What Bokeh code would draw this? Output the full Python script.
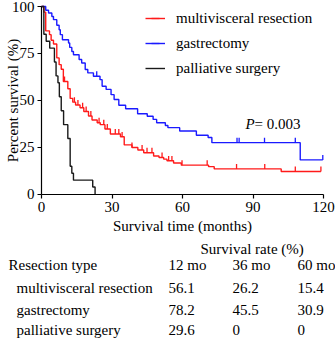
import numpy as np
from bokeh.plotting import figure
from bokeh.models import Range1d, Legend, LegendItem, Label, ColumnDataSource
from bokeh.embed import file_html
from bokeh.resources import INLINE

FONT = "Liberation Serif"
FS = "15px"

# ---- Kaplan-Meier step data (time in months, survival in %) ----
mvr_t = [0, 1.0, 1.8, 3.4, 4.1, 5.1, 6.5, 7.5, 8.4, 9.3, 11.2, 12.2, 13.3, 14.5, 16.4, 18.0,
         20.0, 21.5, 23.7, 25.0, 27.0, 29.3, 33.6, 35.2, 38.5, 41.0, 43.5, 47.7, 50.0, 52.0,
         53.4, 56.2, 59.5, 71.1, 73.5, 102.0, 118.9]
mvr_s = [100, 97.0, 87.0, 85.0, 82.0, 80.0, 72.6, 69.0, 66.5, 60.0, 56.1, 51.0, 49.0, 47.5, 46.0, 44.0,
         41.6, 39.5, 38.0, 37.0, 34.7, 32.0, 30.5, 26.2, 24.8, 23.5, 22.0, 20.3, 19.5, 18.6,
         17.7, 16.5, 15.4, 14.6, 13.4, 12.0, 12.0]
mvr_cens = [9.8, 14.0, 15.5, 17.5, 19.0, 21.0, 24.5, 26.5, 28.0, 31.4, 32.9, 34.3, 38.5, 42.8,
            44.9, 47.0, 51.3, 54.1, 55.5, 59.8, 70.5, 83.0, 95.0, 108.0, 118.9]

gas_t = [0, 1.8, 3.0, 4.4, 5.1, 6.5, 7.5, 8.0, 8.9, 11.5, 12.0, 12.9, 13.6, 16.0, 17.1, 18.6,
         19.7, 22.1, 24.9, 25.8, 27.5, 29.6, 30.9, 32.9, 35.8, 40.9, 45.0, 47.5, 49.0, 52.7,
         53.8, 58.8, 65.9, 70.9, 72.5, 110.1, 119.7]
gas_s = [100, 98.0, 96.5, 94.7, 93.0, 90.0, 87.6, 85.0, 82.3, 80.5, 78.2, 76.0, 74.3, 71.7, 69.9, 66.4,
         64.6, 62.8, 61.0, 57.5, 55.8, 53.0, 50.4, 47.3, 45.5, 42.8, 41.5, 39.8, 38.0, 36.5,
         35.4, 33.6, 31.3, 30.1, 27.4, 18.2, 18.2]
gas_cens = [23.5, 83.2, 84.1, 94.9, 108.0, 119.7]

pal_t = [0, 1.0, 2.0, 3.5, 5.5, 6.2, 7.0, 7.6, 8.4, 9.4, 11.2, 12.2, 12.9, 13.6, 21.8, 22.8]
pal_s = [100, 85.2, 81.5, 77.8, 70.4, 63.0, 59.3, 51.9, 44.4, 37.0, 29.6, 14.8, 11.1, 7.4, 3.7, 0]
pal_cens = []

group_names = ["multivisceral resection", "gastrectomy", "palliative surgery"]
group_colors = ["#ff1a1a", "#1a1aff", "#1a1a1a"]

x_ticks = [0, 30, 60, 90, 120]
y_ticks = [0, 25, 50, 75, 100]

p_value_text = "= 0.003"

# ---- table data ----
table_title = "Survival rate (%)"
table_head = "Resection type"
table_times = ["12 mo", "36 mo", "60 mo"]
rate_12 = [56.1, 78.2, 29.6]
rate_36 = [26.2, 45.5, 0]
rate_60 = [15.4, 30.9, 0]

# ---- geometry (pixels): where the 0..120 x 0..100 box sits on the canvas ----
W, H = 335, 340
PX_L, PX_R = 41, 323        # x = 0 and x = 120
PY_T, PY_B = 6, 193.5       # y = 100 and y = 0
X0, X1, Y0, Y1 = 0, 120, 0, 100


def px2x(px):
    return X0 + (px - PX_L) * (X1 - X0) / (PX_R - PX_L)


def py2y(py):
    return Y0 + (PY_B - py) * (Y1 - Y0) / (PY_B - PY_T)


# the frame covers the whole canvas; the axes sit at fixed locations inside it
p = figure(width=W, height=H,
           x_range=Range1d(px2x(0), px2x(W)), y_range=Range1d(py2y(H), py2y(0)),
           output_backend="svg", toolbar_location=None, min_border=0)
p.grid.visible = False
p.outline_line_color = None
p.background_fill_color = "white"
p.border_fill_color = "white"

for ax in (p.xaxis, p.yaxis):
    ax.major_tick_in = 0
    ax.major_tick_out = 4
    ax.minor_tick_line_color = None
    ax.axis_line_width = 1.2
    ax.major_tick_line_width = 1.2
    ax.axis_line_color = "black"
    ax.major_tick_line_color = "black"
    ax.major_label_text_font = FONT
    ax.major_label_text_font_size = FS
    ax.major_label_text_color = "black"
p.xaxis.ticker = x_ticks
p.yaxis.ticker = y_ticks
p.xaxis.bounds = (X0, X1)
p.yaxis.bounds = (Y0, Y1)
p.xaxis.fixed_location = Y0
p.yaxis.fixed_location = X0
p.xaxis.major_label_standoff = 4
p.yaxis.major_label_standoff = 3
p.xaxis.axis_label = "Survival time (months)"
p.xaxis.axis_label_text_font = FONT
p.xaxis.axis_label_text_font_size = FS
p.xaxis.axis_label_text_font_style = "normal"
p.xaxis.axis_label_text_color = "black"
p.xaxis.axis_label_standoff = 2

TICK = 2.6  # censor tick height in % units

items = []
for t, s, c, name, col in [(mvr_t, mvr_s, mvr_cens, group_names[0], group_colors[0]),
                           (gas_t, gas_s, gas_cens, group_names[1], group_colors[1]),
                           (pal_t, pal_s, pal_cens, group_names[2], group_colors[2])]:
    t_arr = np.array(t, dtype=float)
    s_arr = np.array(s, dtype=float)
    line = p.step(t_arr, s_arr, mode="after", line_color=col, line_width=1.4)
    c_arr = np.array(c, dtype=float)
    if len(c_arr):
        idx = np.searchsorted(t_arr, c_arr, side="right") - 1
        cy = s_arr[idx] + TICK / 2
    else:
        cy = np.array([], dtype=float)
    src = ColumnDataSource(dict(x=c_arr, y=cy))
    marks = p.scatter("x", "y", source=src, marker="dash", angle=np.pi / 2, size=5,
                      line_color=col, line_width=1.3)
    items.append(LegendItem(label=name, renderers=[line, marks]))

legend = Legend(items=items, location=(145, H - 78), padding=0, margin=0, spacing=5,
                glyph_height=20, glyph_width=20, label_height=20, label_standoff=11,
                label_text_font=FONT, label_text_font_size=FS, label_text_color="black",
                background_fill_alpha=0, border_line_color=None)
p.add_layout(legend, "center")


def add_text(px, py, text, align="left", style="normal", angle=0.0, xoff=0):
    p.add_layout(Label(x=px2x(px), y=py2y(py), x_offset=xoff, text=text, text_font=FONT,
                       text_font_size=FS, text_font_style=style, text_align=align,
                       text_baseline="middle", text_color="black", angle=angle))


# P value annotation
add_text(245, 123, "P", style="italic")
add_text(245, 123, p_value_text, xoff=9)

# y axis title
add_text(12, 100, "Percent survival (%)", align="center", angle=np.pi / 2)

# ---- survival-rate table below the chart ----
col_x = [168, 232, 297]
row_y = [287.5, 309, 329.5]
head_y = 264.5

add_text(200, 248, table_title)
add_text(8, head_y, table_head)
for x, lab in zip(col_x, table_times):
    add_text(x, head_y, lab)
for i, name in enumerate(group_names):
    add_text(16, row_y[i], name)
    for x, vals in zip(col_x, [rate_12, rate_36, rate_60]):
        add_text(x, row_y[i], f"{vals[i]:g}")

open("out.html", "w").write(file_html(p, INLINE))
